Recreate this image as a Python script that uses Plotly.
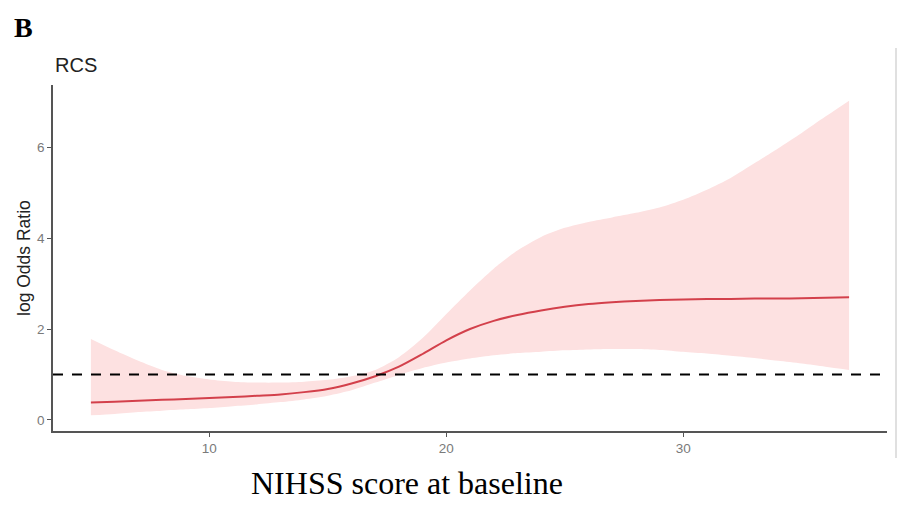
import plotly.graph_objects as go

# NIHSS score grid and restricted cubic spline estimates (log odds ratio)
nihss = [5, 6, 7, 8, 9, 10, 11, 12, 13, 14, 15, 16, 17, 18, 19, 20, 21,
         22, 23, 24, 25, 26, 27, 28, 29, 30, 31, 32, 33, 34, 35, 36, 37]
log_or = [0.38, 0.40, 0.42, 0.44, 0.46, 0.48, 0.50, 0.53, 0.56, 0.61, 0.68,
          0.80, 0.96, 1.17, 1.45, 1.75, 2.00, 2.18, 2.31, 2.41, 2.49, 2.55,
          2.59, 2.62, 2.64, 2.65, 2.66, 2.66, 2.67, 2.67, 2.68, 2.69, 2.70]
ci_upper = [1.78, 1.53, 1.30, 1.10, 0.97, 0.89, 0.84, 0.82, 0.82, 0.84, 0.88,
            0.96, 1.10, 1.38, 1.80, 2.33, 2.85, 3.33, 3.73, 4.03, 4.23, 4.36,
            4.46, 4.56, 4.68, 4.85, 5.07, 5.33, 5.65, 5.98, 6.32, 6.68, 7.03]
ci_lower = [0.10, 0.13, 0.17, 0.20, 0.23, 0.26, 0.30, 0.34, 0.39, 0.45, 0.53,
            0.65, 0.82, 0.99, 1.14, 1.26, 1.35, 1.42, 1.47, 1.50, 1.53, 1.55,
            1.56, 1.56, 1.54, 1.50, 1.46, 1.41, 1.36, 1.30, 1.24, 1.17, 1.10]
reference_value = 1

x_ticks = [10, 20, 30]
y_ticks = [0, 2, 4, 6]

SANS = "Liberation Sans, Arial, sans-serif"
SERIF = "Liberation Serif, Times New Roman, serif"

fig = go.Figure()

# confidence band
fig.add_trace(go.Scatter(
    x=nihss, y=ci_lower, mode="lines",
    line=dict(width=0, shape="spline", smoothing=0.7),
    hoverinfo="skip", showlegend=False,
))
fig.add_trace(go.Scatter(
    x=nihss, y=ci_upper, mode="lines",
    line=dict(width=0, shape="spline", smoothing=0.7),
    fill="tonexty", fillcolor="#fde1e1",
    hoverinfo="skip", showlegend=False,
))
# fitted curve
fig.add_trace(go.Scatter(
    x=nihss, y=log_or, mode="lines",
    line=dict(color="#d3404b", width=2, shape="spline", smoothing=0.7),
    showlegend=False,
))

# reference line at log OR = 1
fig.add_hline(y=reference_value, line=dict(color="black", width=2, dash="10px,9px"),
              layer="above")

# right border of the figure panel
fig.add_shape(type="line", xref="paper", yref="paper",
              x0=1.0108, x1=1.0108, y0=-0.078, y1=1.107,
              line=dict(color="#d6d6d6", width=1.5))

axis_common = dict(
    showline=True, linecolor="#555555", linewidth=1.5,
    ticks="outside", ticklen=4, tickwidth=1, tickcolor="#555555",
    showgrid=False, zeroline=False,
    tickfont=dict(family=SANS, size=13.5, color="#7a7a7a"),
)

x_lo, x_hi = min(nihss), max(nihss)
x_pad = (x_hi - x_lo) * 0.05
y_lo, y_hi = min(ci_lower), max(ci_upper)
y_pad = (y_hi - y_lo) * 0.05

fig.update_xaxes(range=[x_lo - x_pad, x_hi + x_pad], tickvals=x_ticks, **axis_common)
fig.update_yaxes(range=[y_lo - y_pad, y_hi + y_pad], tickvals=y_ticks, **axis_common)

annotations = [
    dict(text="RCS", x=0, y=1.058, xref="paper", yref="paper",
         xanchor="left", yanchor="middle", showarrow=False,
         font=dict(family=SANS, size=20, color="#222222")),
    dict(text="<b>B</b>", x=-0.0492, y=1.1676, xref="paper", yref="paper",
         xanchor="left", yanchor="middle", showarrow=False,
         font=dict(family=SERIF, size=28, color="black")),
    dict(text="log Odds Ratio", x=-0.0348, y=0.5, xref="paper", yref="paper",
         xanchor="center", yanchor="middle", textangle=-90, showarrow=False,
         font=dict(family=SANS, size=17.5, color="#222222")),
    dict(text="NIHSS score at baseline", x=0.4245, y=-0.1517, xref="paper", yref="paper",
         xanchor="center", yanchor="middle", showarrow=False,
         font=dict(family=SERIF, size=32, color="black")),
]

fig.update_layout(
    width=899, height=507,
    margin=dict(l=53, r=12, t=85, b=76),
    paper_bgcolor="white", plot_bgcolor="white",
    annotations=annotations,
)

fig.write_html("out.html")
